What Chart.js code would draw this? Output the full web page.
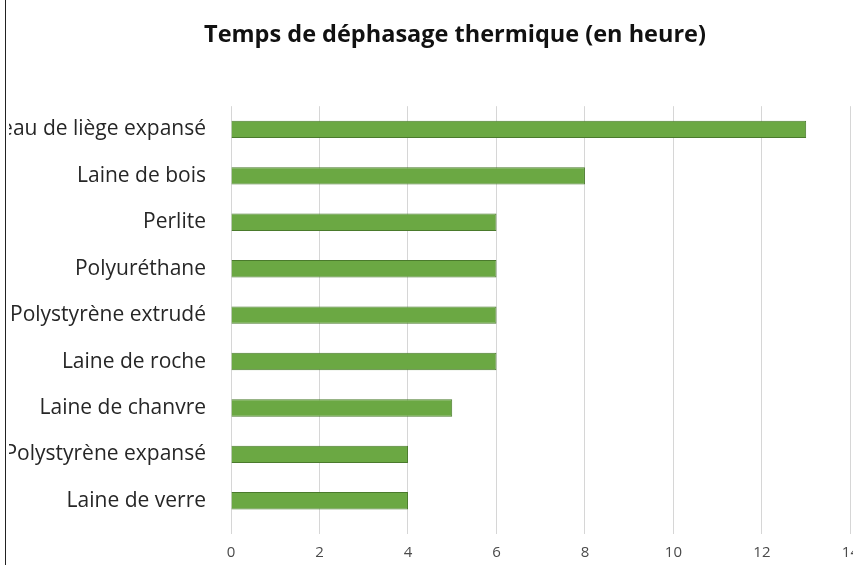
<!DOCTYPE html>
<html>
<head>
<meta charset="utf-8">
<script src="https://cdn.jsdelivr.net/npm/chart.js@4.4.0/dist/chart.umd.min.js"></script>
<style>
  html, body { margin: 0; padding: 0; background: #fff; overflow: hidden; }
  #frame { position: absolute; left: 5px; top: 0; width: 848px; height: 565px; border-left: 1px solid #222; overflow: hidden; }
  #wrap { position: absolute; left: 3px; top: 0; width: 860px; height: 572px; }
</style>
</head>
<body>
<div id="frame">
  <div id="wrap"><canvas id="dephasageChart"></canvas></div>
</div>
<script>
const materials = [
  'Panneau de liège expansé',
  'Laine de bois',
  'Perlite',
  'Polyuréthane',
  'Polystyrène extrudé',
  'Laine de roche',
  'Laine de chanvre',
  'Polystyrène expansé',
  'Laine de verre'
];
const hours = [13, 8, 6, 6, 6, 6, 5, 4, 4];
const chartTitle = 'Temps de déphasage thermique (en heure)';

const ctx = document.getElementById('dephasageChart');

// let the long category labels run to the canvas edge instead of being cut at the axis box
const widenLabelArea = {
  id: 'widenLabelArea',
  afterLayout(chart) {
    chart.scales.y.left = -60;
  }
};

new Chart(ctx, {
  type: 'bar',
  data: {
    labels: materials,
    datasets: [{
      label: chartTitle,
      data: hours,
      backgroundColor: '#6ba843',
      borderColor: '#4a7a2c',
      borderWidth: 1,
      barPercentage: 0.75,
      categoryPercentage: 0.5
    }]
  },
  options: {
    indexAxis: 'y',
    responsive: true,
    maintainAspectRatio: false,
    animation: false,
    layout: { padding: { top: 21, right: 0, bottom: 0, left: 32 } },
    plugins: {
      legend: { display: false },
      tooltip: { enabled: false },
      title: {
        display: true,
        text: chartTitle,
        color: '#111',
        font: { family: 'Open Sans', size: 23.5, weight: 'bold' },
        padding: { top: 0, bottom: 57 }
      }
    },
    scales: {
      x: {
        min: 0,
        max: 14,
        ticks: {
          stepSize: 2,
          color: '#4a4a4a',
          padding: 10,
          font: { family: 'Open Sans', size: 15 }
        },
        grid: {
          color: '#d6d6d6',
          tickColor: '#d6d6d6',
          tickLength: 10,
          drawTicks: true
        },
        border: { display: false }
      },
      y: {
        afterFit: (scale) => { scale.width = 190; },
        ticks: {
          color: '#262626',
          padding: 17,
          font: { family: 'Open Sans', size: 21 }
        },
        grid: { display: false },
        border: { display: false }
      }
    }
  },
  plugins: [widenLabelArea]
});
</script>
</body>
</html>
